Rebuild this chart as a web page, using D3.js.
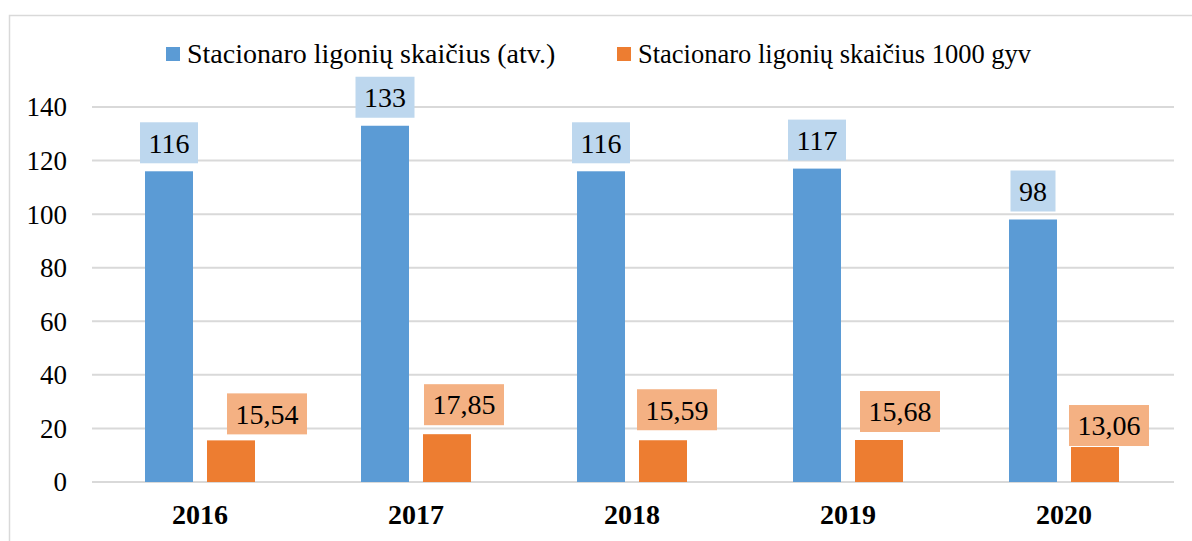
<!doctype html>
<html>
<head>
<meta charset="utf-8">
<title>Stacionaro ligonių skaičius</title>
<script src="https://d3js.org/d3.v7.min.js"></script>
<style>
  body { margin: 0; background: #fff; }
</style>
</head>
<body>
<div id="chart"></div>
<script>

// data
var years = ["2016", "2017", "2018", "2019", "2020"];
var patients = [116, 133, 116, 117, 98];
var perThousand = [15.54, 17.85, 15.59, 15.68, 13.06];
var seriesNames = ["Stacionaro ligonių skaičius (atv.)", "Stacionaro ligonių skaičius 1000 gyv"];
var yTicks = [0, 20, 40, 60, 80, 100, 120, 140];

// hand-placed label nudges for the orange labels (as in the original)
var orangeNudgeX = [36, 17, 14, 21, 14];
var orangeGap = [6, 9, 10, 8, 1];

var colors = ["#5B9BD5", "#ED7D31"];
var labelFill = ["#BDD7EE", "#F4B183"];
var font = "Liberation Serif";

var width = 1192, height = 541;

var svg = d3.select("#chart").append("svg")
    .attr("width", width)
    .attr("height", height)
    .style("display", "block");

// outer frame
svg.append("rect")
    .attr("x", 9.5).attr("y", 15.5)
    .attr("width", 1200).attr("height", 600)
    .attr("fill", "none")
    .attr("stroke", "#D9D9D9")
    .attr("stroke-width", 1.5);

var y = d3.scaleLinear().domain([0, 140]).range([482, 107]);

var x0 = d3.scaleBand().domain(years).range([92, 1172])
    .paddingInner(106 / 216).paddingOuter(53 / 216);

var x1 = d3.scaleBand().domain([0, 1]).range([0, x0.bandwidth()])
    .paddingInner(14 / 62);

// gridlines
svg.append("g").selectAll("line")
    .data(yTicks)
    .join("line")
    .attr("x1", 92).attr("x2", 1174)
    .attr("y1", function(d) { return y(d); })
    .attr("y2", function(d) { return y(d); })
    .attr("stroke", "#D9D9D9")
    .attr("stroke-width", 2);

// y tick labels
svg.append("g").selectAll("text")
    .data(yTicks)
    .join("text")
    .attr("x", 67)
    .attr("y", function(d) { return y(d); })
    .attr("dy", "0.35em")
    .attr("text-anchor", "end")
    .style("font-family", font)
    .attr("font-size", 27)
    .text(function(d) { return d; });

// year labels
svg.append("g").selectAll("text")
    .data(years)
    .join("text")
    .attr("x", function(d) { return x0(d) + x0.bandwidth() / 2; })
    .attr("y", 524)
    .attr("text-anchor", "middle")
    .style("font-family", font)
    .attr("font-size", 28)
    .attr("font-weight", "bold")
    .text(function(d) { return d; });

var series = [patients, perThousand];

// bars
series.forEach(function(vals, s) {
    svg.append("g").selectAll("rect")
        .data(vals)
        .join("rect")
        .attr("x", function(d, i) { return x0(years[i]) + x1(s); })
        .attr("y", function(d) { return y(d); })
        .attr("width", x1.bandwidth())
        .attr("height", function(d) { return y(0) - y(d); })
        .attr("fill", colors[s]);
});

// data labels with boxes
function fmt(s, d) {
    return s === 0 ? String(d) : d.toFixed(2).replace(".", ",");
}

series.forEach(function(vals, s) {
    vals.forEach(function(d, i) {
        var cx = x0(years[i]) + x1(s) + x1.bandwidth() / 2;
        var gap = 8;
        if (s === 1) { cx += orangeNudgeX[i]; gap = orangeGap[i]; }
        var boxH = 41;
        var bottom = y(d) - gap;
        var g = svg.append("g");
        var box = g.append("rect").attr("fill", labelFill[s]);
        var t = g.append("text")
            .attr("x", cx)
            .attr("y", bottom - boxH / 2)
            .attr("dy", "0.35em")
            .attr("text-anchor", "middle")
            .style("font-family", font)
            .attr("font-size", 28)
            .text(fmt(s, d));
        var w = t.node().getComputedTextLength() + 17;
        box.attr("x", cx - w / 2).attr("y", bottom - boxH)
            .attr("width", w).attr("height", boxH);
    });
});

// legend
var legendX = [166, 617];
var legendSize = [28, 26.5];
seriesNames.forEach(function(name, s) {
    var g = svg.append("g").attr("transform", "translate(" + legendX[s] + ",47)");
    g.append("rect").attr("width", 14).attr("height", 14).attr("fill", colors[s]);
    g.append("text")
        .attr("x", 21).attr("y", 15.5)
        .style("font-family", font)
        .attr("font-size", legendSize[s])
        .text(name);
});

</script>
</body>
</html>
